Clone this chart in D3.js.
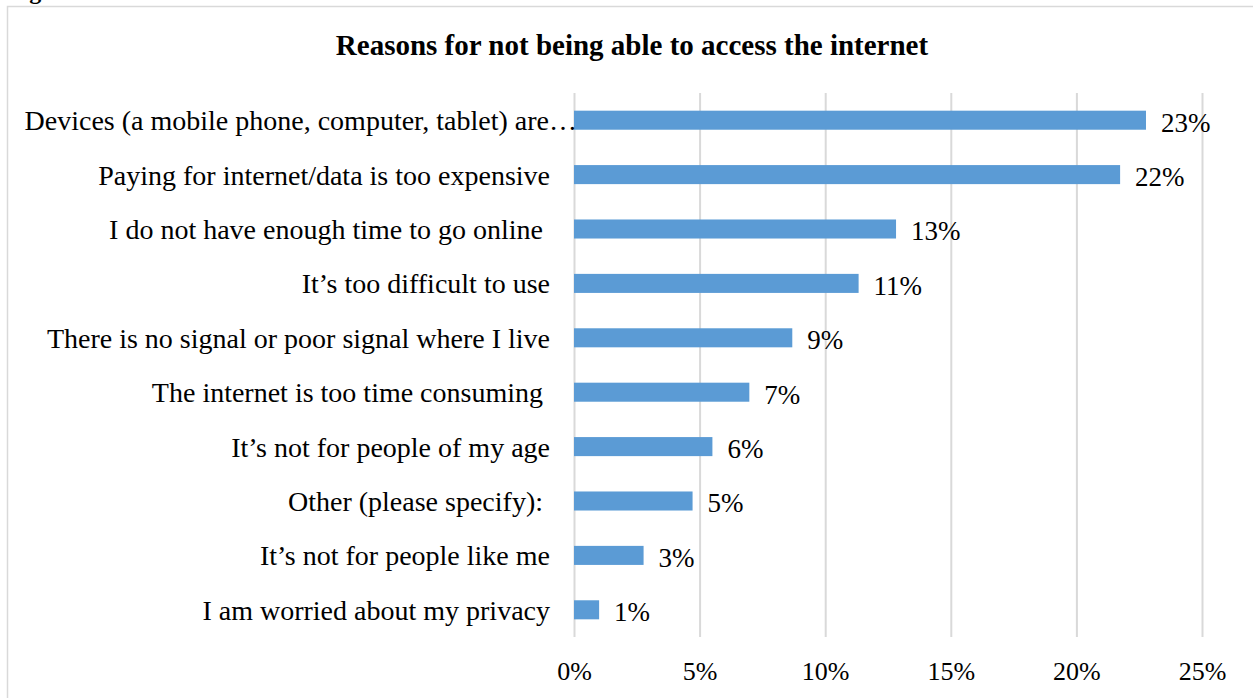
<!DOCTYPE html>
<html>
<head>
<meta charset="utf-8">
<script src="https://cdn.jsdelivr.net/npm/d3@7"></script>
<style>
  html, body { margin: 0; padding: 0; background: #fff; overflow: hidden; }
  svg { display: block; }
  text { font-family: "Liberation Serif", "Times New Roman", serif; fill: #000; }
</style>
</head>
<body>
<svg id="chart" width="1253" height="698"></svg>
<script>
// ---- data ----
const categories = [
  "Devices (a mobile phone, computer, tablet) are…",
  "Paying for internet/data is too expensive",
  "I do not have enough time to go online ",
  "It’s too difficult to use",
  "There is no signal or poor signal where I live",
  "The internet is too time consuming ",
  "It’s not for people of my age",
  "Other (please specify): ",
  "It’s not for people like me",
  "I am worried about my privacy"
];
const values = [22.77, 21.74, 12.82, 11.33, 8.69, 6.98, 5.51, 4.72, 2.77, 1.0];
const valueLabels = ["23%", "22%", "13%", "11%", "9%", "7%", "6%", "5%", "3%", "1%"];
const tickValues = [0, 5, 10, 15, 20, 25];
const tickLabels = ["0%", "5%", "10%", "15%", "20%", "25%"];
const title = "Reasons for not being able to access the internet";
const captionText = "Figure";

// ---- layout ----
const W = 1253, H = 698;
const plot = { left: 574, right: 1202, top: 93, bottom: 637 };
const FONT = '"Liberation Serif", "Times New Roman", serif';
const svg = d3.select("#chart");

// outer frame (chart area border)
svg.append("rect")
  .attr("x", 7.5).attr("y", 6.5)
  .attr("width", W + 20).attr("height", H + 20)
  .attr("fill", "#fff")
  .attr("stroke", "#d9d9d9").attr("stroke-width", 1.5);

// partially visible caption above the frame
svg.append("text")
  .attr("x", 8).attr("y", -1)
  .attr("font-size", 24).attr("font-weight", "bold")
  .text(captionText);

const x = d3.scaleLinear().domain([0, 25]).range([plot.left, plot.right]);
const y = d3.scaleBand().domain(categories)
  .range([plot.top, plot.bottom])
  .paddingInner(0.65).paddingOuter(0.325);

// gridlines
const grid = d3.axisBottom(x).tickValues(tickValues)
  .tickSize(-(plot.bottom - plot.top)).tickFormat("");
svg.append("g")
  .attr("transform", `translate(0,${plot.bottom})`)
  .call(grid)
  .call(g => g.select(".domain").remove())
  .call(g => g.selectAll("line").attr("stroke", "#d9d9d9").attr("stroke-width", 2));

// x tick labels
const xAxis = d3.axisBottom(x).tickValues(tickValues).tickSize(0)
  .tickFormat((d, i) => tickLabels[i]);
svg.append("g")
  .attr("transform", `translate(0,${plot.bottom})`)
  .call(xAxis)
  .call(g => g.select(".domain").remove())
  .call(g => g.selectAll("text")
    .attr("font-family", FONT)
    .attr("font-size", 26).attr("fill", "#000")
    .attr("dy", null).attr("y", 43));

// bars
svg.append("g").selectAll("rect")
  .data(categories)
  .join("rect")
  .attr("x", x(0))
  .attr("y", d => y(d))
  .attr("width", (d, i) => x(values[i]) - x(0))
  .attr("height", y.bandwidth())
  .attr("fill", "#5b9bd5");

// category labels
const yAxis = d3.axisLeft(y).tickSize(0).tickPadding(24);
svg.append("g")
  .attr("transform", `translate(${plot.left},0)`)
  .call(yAxis)
  .call(g => g.select(".domain").remove())
  .call(g => g.selectAll("text")
    .attr("font-family", FONT)
    .attr("font-size", 28).attr("fill", "#000")
    .attr("dy", "0.36em")
    .style("white-space", "pre")
    .attr("xml:space", "preserve"));
// first (truncated) label overhangs the axis as in the original
svg.selectAll("g text").filter(d => d === categories[0])
  .attr("text-anchor", "end").attr("x", 3);

// value labels
svg.append("g").selectAll("text")
  .data(categories)
  .join("text")
  .attr("x", (d, i) => x(values[i]) + 15)
  .attr("y", d => y(d) + y.bandwidth() / 2)
  .attr("dy", "0.42em")
  .attr("font-size", 27)
  .text((d, i) => valueLabels[i]);

// title
svg.append("text")
  .attr("x", 632).attr("y", 55)
  .attr("text-anchor", "middle")
  .attr("font-size", 29).attr("font-weight", "bold")
  .text(title);
</script>
</body>
</html>
